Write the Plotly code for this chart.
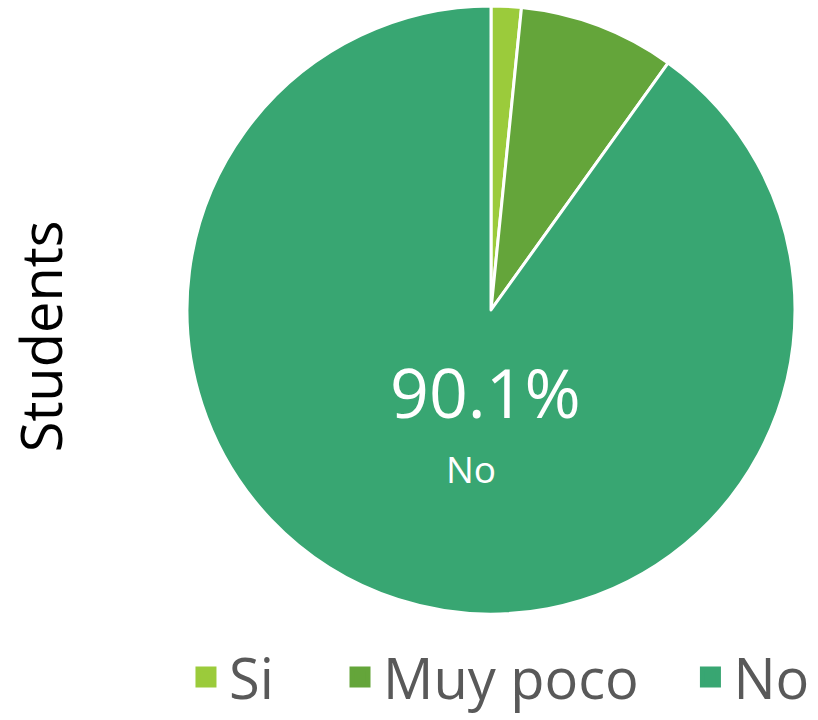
import plotly.graph_objects as go

labels = ["Si", "Muy poco", "No"]
values = [1.6, 8.3, 90.1]
colors = ["#9bcb3b", "#64a53a", "#38a672"]
label_slice = 2  # only the big slice carries a data label

# extra space after legend entries (Excel spreads them wider)
legend_pad = [4, 3, 0]

FONT = "Open Sans"

fig = go.Figure(
    go.Pie(
        labels=labels,
        values=values,
        sort=False,
        direction="clockwise",
        rotation=0,
        marker=dict(colors=colors, line=dict(color="white", width=3)),
        textinfo="none",
        domain=dict(x=[0.2286, 0.9719], y=[0.1472, 0.9917]),
        hoverinfo="label+percent",
        showlegend=False,
    )
)

# legend entries with big square swatches
for name, col, pad in zip(labels, colors, legend_pad):
    fig.add_trace(
        go.Scatter(
            x=[None],
            y=[None],
            mode="markers",
            name=name + "\u00a0" * pad,
            marker=dict(symbol="square", size=16, color=col, line=dict(color=col, width=5)),
        )
    )

# data label inside the "No" slice
share = values[label_slice] / sum(values)
fig.add_annotation(
    text=f"{share:.1%}",
    x=0.594, y=0.456, xref="paper", yref="paper",
    xanchor="center", yanchor="middle", showarrow=False,
    font=dict(family=FONT, size=68, color="white"),
)
fig.add_annotation(
    text=labels[label_slice],
    x=0.576, y=0.349, xref="paper", yref="paper",
    xanchor="center", yanchor="middle", showarrow=False,
    font=dict(family=FONT, size=37, color="white"),
)

fig.add_annotation(
    text="Students",
    x=0.049,
    y=0.533,
    xref="paper",
    yref="paper",
    xanchor="center",
    yanchor="middle",
    textangle=-90,
    showarrow=False,
    font=dict(family=FONT, size=56, color="black"),
)

fig.update_layout(
    width=818,
    height=720,
    margin=dict(l=0, r=0, t=0, b=0),
    paper_bgcolor="white",
    plot_bgcolor="white",
    font=dict(family=FONT),
    xaxis=dict(visible=False),
    yaxis=dict(visible=False),
    legend=dict(
        orientation="h",
        xanchor="center",
        x=0.61,
        yanchor="bottom",
        y=0.0,
        itemwidth=36,
        font=dict(family=FONT, size=56, color="#595959"),
    ),
)

fig.write_html(
    "out.html",
    config={"displayModeBar": False},
    post_script="document.body.style.margin='0';",
)
